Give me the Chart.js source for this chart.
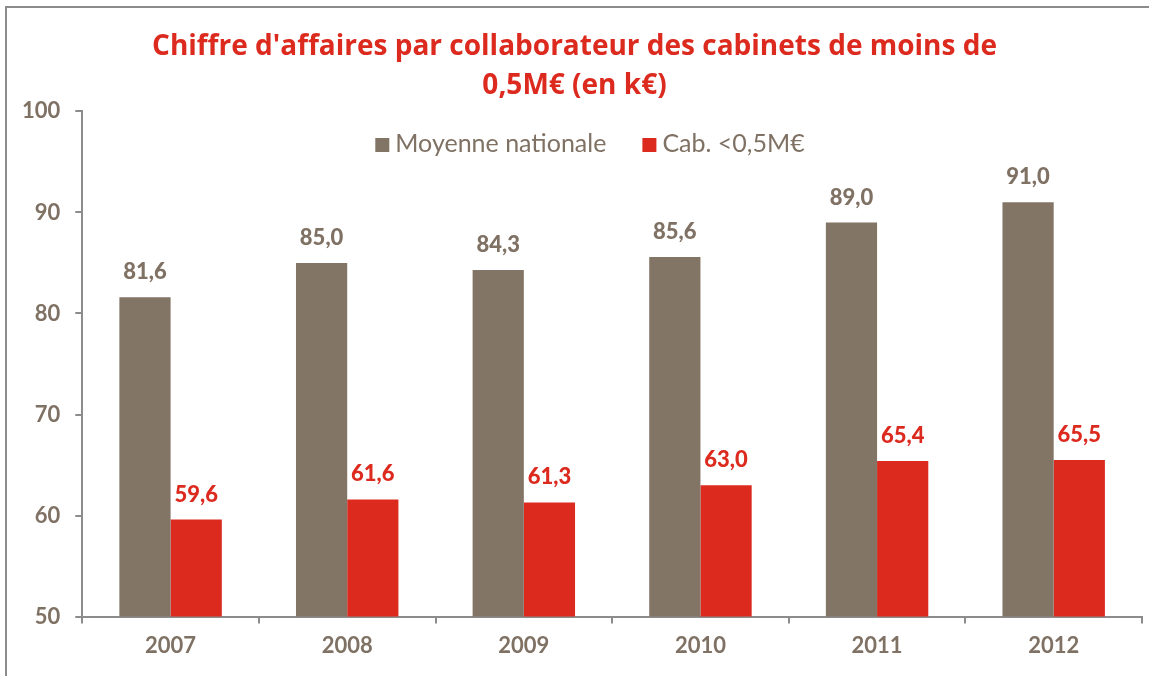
<!DOCTYPE html>
<html>
<head>
<meta charset="utf-8">
<script src="https://cdn.jsdelivr.net/npm/chart.js@4.4.1/dist/chart.umd.min.js"></script>
<style>
  html, body { margin: 0; padding: 0; background: #fff; }
  #wrap { width: 1149px; height: 676px; position: relative; }
</style>
</head>
<body>
<div id="wrap"><canvas id="ca-chart" width="1149" height="676"></canvas></div>
<script>
const years = ['2007', '2008', '2009', '2010', '2011', '2012'];
const moyenneNationale = [81.6, 85.0, 84.3, 85.6, 89.0, 91.0];
const cabMoins05 = [59.6, 61.6, 61.3, 63.0, 65.4, 65.5];
const seriesNames = ['Moyenne nationale', 'Cab. <0,5M€'];
const yTicks = [50, 60, 70, 80, 90, 100];

const brown = '#837565';
const red = '#dc2a1f';
const textBrown = '#7f7163';
const axisGray = '#8c8c8c';
const fontFamily = 'Lato, "Open Sans", sans-serif';

// frame + value labels + legend drawn over the plot
const extras = {
    id: 'extras',
    beforeDraw(chart) {
        const c = chart.ctx;
        c.save();
        c.strokeStyle = axisGray;
        c.lineWidth = 2;
        c.beginPath();
        c.moveTo(6, 676);
        c.lineTo(6, 7);
        c.lineTo(1149, 7);
        c.stroke();
        c.restore();
    },
    afterDatasetsDraw(chart) {
        const c = chart.ctx;
        c.save();
        c.font = '900 22px ' + fontFamily;
        c.textAlign = 'center';
        c.textBaseline = 'alphabetic';
        chart.data.datasets.forEach((ds, i) => {
            c.fillStyle = i === 0 ? textBrown : red;
            chart.getDatasetMeta(i).data.forEach((bar, j) => {
                c.fillText(ds.data[j].toFixed(1).replace('.', ','), bar.x, bar.y - 18);
            });
        });

        // legend
        c.font = '25px ' + fontFamily;
        c.textAlign = 'left';
        c.textBaseline = 'middle';
        const box = 14, gap = 6, spacing = 36;
        const widths = chart.data.datasets.map(ds => c.measureText(ds.label).width);
        const total = widths.reduce((a, w) => a + box + gap + w, 0) + spacing;
        let x = 590 - total / 2;
        const y = 144;
        chart.data.datasets.forEach((ds, i) => {
            c.fillStyle = ds.backgroundColor;
            c.fillRect(x, y - box / 2 + 1, box, box);
            c.fillStyle = textBrown;
            c.fillText(ds.label, x + box + gap, y);
            x += box + gap + widths[i] + spacing;
        });
        c.restore();
    }
};

new Chart(document.getElementById('ca-chart').getContext('2d'), {
    type: 'bar',
    data: {
        labels: years,
        datasets: [{
            label: seriesNames[0],
            data: moyenneNationale,
            backgroundColor: brown,
            categoryPercentage: 0.58,
            barPercentage: 1.0
        }, {
            label: seriesNames[1],
            data: cabMoins05,
            backgroundColor: red,
            categoryPercentage: 0.58,
            barPercentage: 1.0
        }]
    },
    options: {
        responsive: false,
        animation: false,
        layout: { padding: { left: 7, right: 7, top: 0, bottom: 8 } },
        plugins: {
            legend: { display: false },
            tooltip: { enabled: false },
            title: {
                display: true,
                text: ["Chiffre d'affaires par collaborateur des cabinets de moins de", '0,5M€ (en k€)'],
                color: red,
                font: { family: '"Open Sans", Lato, sans-serif', size: 28, weight: 'bold', lineHeight: 1.4 },
                padding: { top: 27, bottom: 6 }
            }
        },
        scales: {
            x: {
                grid: { offset: true, drawOnChartArea: false, color: axisGray, lineWidth: 2, tickLength: 7 },
                border: { color: axisGray, width: 2 },
                ticks: { color: textBrown, padding: 9, font: { family: fontFamily, size: 22, weight: 'bold' } }
            },
            y: {
                min: 50,
                max: 100,
                afterBuildTicks(scale) { scale.ticks = yTicks.map(v => ({ value: v })); },
                grid: { drawOnChartArea: false, color: axisGray, lineWidth: 2, tickLength: 7 },
                border: { color: axisGray, width: 2 },
                ticks: { color: textBrown, padding: 15, font: { family: fontFamily, size: 22, weight: 'bold' } }
            }
        }
    },
    plugins: [extras]
});
</script>
</body>
</html>
